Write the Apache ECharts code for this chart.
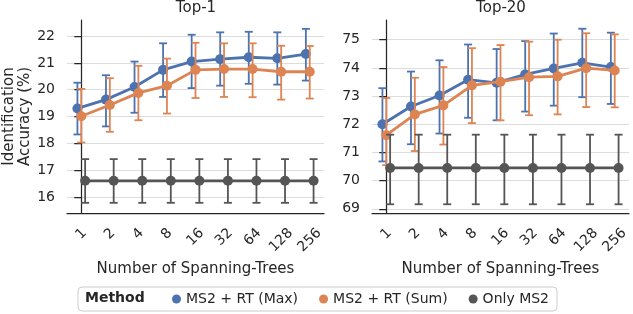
<!DOCTYPE html>
<html>
<head>
<meta charset="utf-8">
<script src="https://cdn.jsdelivr.net/npm/echarts@6/dist/echarts.min.js"></script>
<style>html,body{margin:0;padding:0;background:#fff}#main{width:633px;height:314px}</style>
</head>
<body>
<div id="main"></div>
<script>
var trees=['1','2','4','8','16','32','64','128','256'];
var methods=['MS2 + RT (Max)','MS2 + RT (Sum)','Only MS2'];
var colors=['#4c72b0','#dd8452','#555555'];
var dodge=[-0.135,0,0.135];
var yTicks1=[16,17,18,19,20,21,22];
var yTicks20=[69,70,71,72,73,74,75];

// Top-1 (mean, lower, upper)
var t1Max=[19.30,19.63,20.10,20.74,21.05,21.14,21.21,21.17,21.33];
var t1MaxLo=[18.33,18.63,19.14,19.73,20.06,20.15,20.22,20.19,20.34];
var t1MaxHi=[20.26,20.54,21.05,21.73,22.05,22.14,22.16,22.14,22.27];
var t1Sum=[19.01,19.43,19.88,20.15,20.74,20.77,20.77,20.67,20.67];
var t1SumLo=[18.03,18.43,18.86,19.11,19.69,19.73,19.72,19.63,19.67];
var t1SumHi=[20.03,20.43,20.89,21.16,21.75,21.73,21.73,21.64,21.63];
var t1Ms2=[16.60,16.60,16.60,16.60,16.60,16.60,16.60,16.60,16.60];
var t1Ms2Lo=[15.78,15.78,15.78,15.78,15.78,15.78,15.78,15.78,15.78];
var t1Ms2Hi=[17.41,17.41,17.41,17.41,17.41,17.41,17.41,17.41,17.41];

// Top-20
var t20Max=[72.00,72.63,73.02,73.58,73.47,73.77,73.98,74.18,74.03];
var t20MaxLo=[70.68,71.29,71.67,72.23,72.14,72.45,72.66,72.96,72.72];
var t20MaxHi=[73.28,73.87,74.27,74.83,74.67,74.95,75.22,75.39,75.25];
var t20Sum=[71.61,72.35,72.67,73.38,73.51,73.67,73.70,73.99,73.91];
var t20SumLo=[70.55,71.05,71.28,72.04,72.14,72.32,72.35,72.61,72.60];
var t20SumHi=[72.93,73.65,74.03,74.70,74.81,74.93,75.00,75.23,75.19];
var t20Ms2=[70.45,70.45,70.45,70.45,70.45,70.45,70.45,70.45,70.45];
var t20Ms2Lo=[69.16,69.16,69.16,69.16,69.16,69.16,69.16,69.16,69.16];
var t20Ms2Hi=[71.63,71.63,71.63,71.63,71.63,71.63,71.63,71.63,71.63];

var font='DejaVu Sans';
var ink='#262626';

// rotated tick labels: centre the rotated box under the tick (like matplotlib)
var ctx=document.createElement('canvas').getContext('2d');
ctx.font='14px "DejaVu Sans"';
var tickRich={};
for(var i=0;i<trees.length;i++){
	var p=(ctx.measureText(trees[i]).width+14*1.17)/2;
	tickRich['l'+i]={padding:[p,p,0,0],fontFamily:font,fontSize:14,color:ink};
}

function errBars(k,xi,yi,lo,hi){
	var d=[];
	for(var i=0;i<lo.length;i++){ d.push([i+dodge[k],lo[i],hi[i]]); }
	return {
		type:'custom', xAxisIndex:xi, yAxisIndex:yi, z:2+k,
		encode:{x:0,y:[1,2]}, data:d, silent:true,
		renderItem:function(params,api){
			var a=api.coord([api.value(0),api.value(1)]);
			var b=api.coord([api.value(0),api.value(2)]);
			var w=4, st={stroke:colors[k],lineWidth:1.8};
			return {type:'group',children:[
				{type:'line',shape:{x1:a[0],y1:a[1],x2:b[0],y2:b[1]},style:st},
				{type:'line',shape:{x1:a[0]-w,y1:a[1],x2:a[0]+w,y2:a[1]},style:st},
				{type:'line',shape:{x1:b[0]-w,y1:b[1],x2:b[0]+w,y2:b[1]},style:st}
			]};
		}
	};
}
function pointLine(k,xi,yi,vals){
	var d=[];
	for(var i=0;i<vals.length;i++){ d.push([i+dodge[k],vals[i]]); }
	return {
		name:methods[k], type:'line', xAxisIndex:xi, yAxisIndex:yi, z:2+k,
		data:d, symbol:'circle', symbolSize:10, color:colors[k],
		lineStyle:{width:2.8,color:colors[k]}, itemStyle:{color:colors[k]},
		emphasis:{disabled:true}
	};
}
function catAxis(g){
	return {
		type:'category', gridIndex:g, data:trees,
		name:'Number of Spanning-Trees', nameLocation:'middle', nameGap:45,
		nameTextStyle:{fontFamily:font,fontSize:15,color:ink},
		axisLine:{lineStyle:{color:ink,width:1.25}},
		axisTick:{alignWithLabel:true,length:7,lineStyle:{color:ink,width:1.25}},
		axisLabel:{rotate:45,align:'center',verticalAlign:'middle',margin:12,interval:0,
			formatter:function(v,idx){ return '{l'+idx+'|'+v+'}'; }, rich:tickRich},
		splitLine:{show:false}
	};
}
function valXAxis(g){
	return {type:'value', gridIndex:g, min:-0.5, max:8.5, show:false};
}
function valYAxis(g,mn,mx,ticks){
	return {
		type:'value', gridIndex:g, min:mn, max:mx, minInterval:1, maxInterval:1,
		axisLine:{show:true,lineStyle:{color:ink,width:1.25}},
		axisTick:{show:true,length:7,customValues:ticks,lineStyle:{color:ink,width:1.25}},
		axisLabel:{fontFamily:font,fontSize:14,color:ink,margin:12,customValues:ticks},
		splitLine:{show:true,lineStyle:{color:'#dcdcdc',width:1}}
	};
}

var yLeft=valYAxis(0,15.4,22.6,yTicks1);
yLeft.name='Identification\nAccuracy (%)';
yLeft.nameLocation='middle';
yLeft.nameGap=33;
yLeft.nameTextStyle={fontFamily:font,fontSize:15,color:ink,lineHeight:16};

var option={
	animation:false,
	title:[
		{text:'Top-1',left:196,top:1,padding:0,textAlign:'center',textStyle:{fontFamily:font,fontSize:15,fontWeight:'normal',color:ink}},
		{text:'Top-20',left:501,top:1,padding:0,textAlign:'center',textStyle:{fontFamily:font,fontSize:15,fontWeight:'normal',color:ink}}
	],
	grid:[
		{left:67,top:20,width:257,height:193,containLabel:false,outerBoundsMode:'none'},
		{left:372,top:20,width:257,height:193,containLabel:false,outerBoundsMode:'none'}
	],
	xAxis:[catAxis(0),valXAxis(0),catAxis(1),valXAxis(1)],
	yAxis:[yLeft,valYAxis(1,68.85,75.7,yTicks20)],
	legend:{
		data:methods, left:78, top:287, padding:[5,8,5,94],
		itemWidth:9, itemHeight:9, itemGap:21, icon:'circle',
		borderColor:'#cccccc', borderWidth:1, borderRadius:4,
		textStyle:{fontFamily:font,fontSize:14,color:ink}
	},
	graphic:[{type:'text',left:85,top:291,style:{text:'Method',font:'bold 14px "DejaVu Sans"',fill:ink}}],
	series:[
		errBars(0,1,0,t1MaxLo,t1MaxHi), pointLine(0,1,0,t1Max),
		errBars(1,1,0,t1SumLo,t1SumHi), pointLine(1,1,0,t1Sum),
		errBars(2,1,0,t1Ms2Lo,t1Ms2Hi), pointLine(2,1,0,t1Ms2),
		errBars(0,3,1,t20MaxLo,t20MaxHi), pointLine(0,3,1,t20Max),
		errBars(1,3,1,t20SumLo,t20SumHi), pointLine(1,3,1,t20Sum),
		errBars(2,3,1,t20Ms2Lo,t20Ms2Hi), pointLine(2,3,1,t20Ms2)
	]
};
echarts.init(document.getElementById('main')).setOption(option);
</script>
</body>
</html>
